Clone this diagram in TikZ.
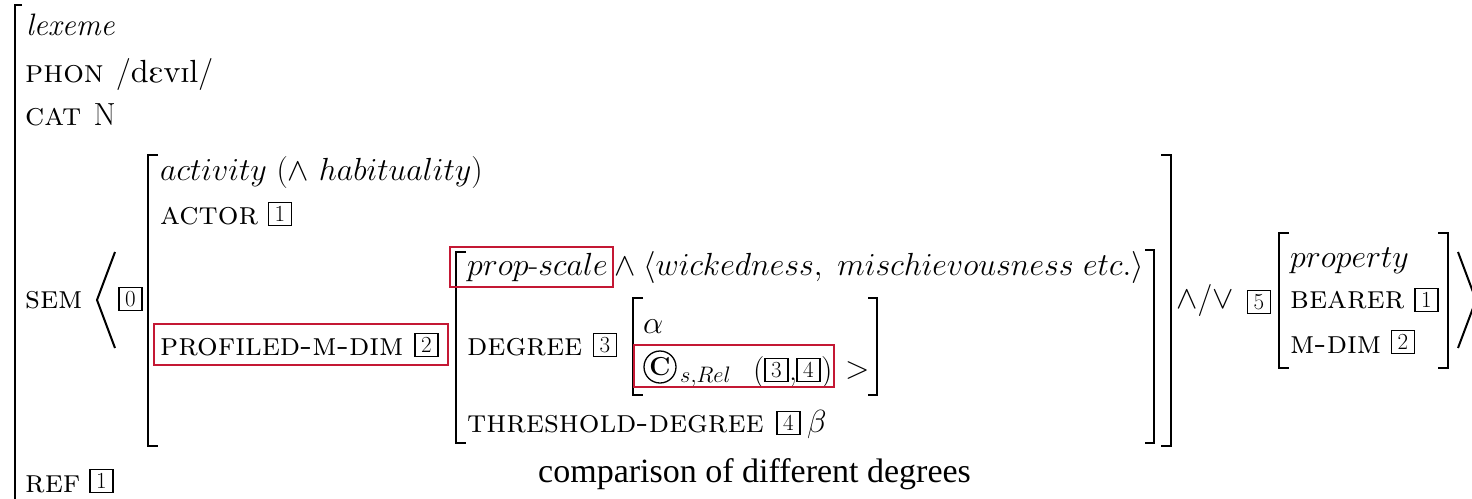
\RequirePackage{fix-cm}
\documentclass[tikz,border=0pt]{standalone}
\usepackage{fontspec}
\usepackage{tipa}
\DeclareFontFamily{T3}{mytipa}{}
\DeclareFontShape{T3}{mytipa}{m}{n}{<-> tipa10}{}
\newfontfamily\capfont{Liberation Serif}
\definecolor{myred}{RGB}{196,24,52}
\begin{document}
\begin{tikzpicture}[x=1pt,y=-1pt,
  t/.style={anchor=base west, inner sep=0pt, font=\fontsize{32}{38}\selectfont},
  sc/.style={anchor=base west, inner sep=0pt, font=\fontsize{32.5}{39}\selectfont\scshape},
  bx/.style={draw, line width=1.4pt, inner sep=0pt, minimum width=23pt, minimum height=23pt, font=\fontsize{23}{27}\selectfont},
  brk/.style={line width=2pt},
  redbox/.style={draw=myred, line width=2pt},
]
\useasboundingbox (0,0) rectangle (1472,498);
% outer bracket
\draw[brk] (22,5) -- (15,5) -- (15,510);
\node[t, font=\fontsize{31}{37}\selectfont] (lex) at (26,35) {\textit{lexeme}};
\node[sc] (phon) at (25,82) {phon \upshape\fontsize{32}{38}\selectfont/{\fontencoding{T3}\fontfamily{mytipa}\selectfont dEvIl}/};
\node[sc] (cat) at (25,125) {cat \upshape\fontsize{32}{38}\selectfont N};
\node[sc] (sem) at (25,308) {sem};
\draw[brk] (115,252) -- (97,300) -- (115,348);
\node[bx] (b0) at (130.5,299) {0};
% activity AVM
\draw[brk] (158,155) -- (148,155) -- (148,446) -- (158,446);
\draw[brk] (1161,155) -- (1171,155) -- (1171,446) -- (1161,446);
\node[t] (act) at (160,180) {$activity\ (\wedge\ habituality)$};
\node[sc] (actor) at (160,224) {actor};
\node[bx] (b1a) at (280,214) {1};
\node[sc] (prof) at (160,355) {profiled-m-dim};
\node[bx] (b2a) at (426.5,345) {2};
\draw[redbox] (154,324) rectangle (448,365);
% prop-scale AVM
\draw[brk] (466,252) -- (456,252) -- (456,443) -- (466,443);
\draw[brk] (1145,250) -- (1154,250) -- (1154,443) -- (1145,443);
\node[t] (ps) at (467,275) {$prop\mbox{-}scale\wedge\langle wickedness,\ mischievousness\ etc.\rangle$};
\draw[redbox] (450,247) rectangle (613,287);
\node[sc] (deg) at (467,355) {degree};
\node[bx] (b3a) at (605,345) {3};
% degree AVM
\draw[brk] (643,298) -- (633,298) -- (633,395) -- (643,395);
\draw[brk] (868,298) -- (877,298) -- (877,395) -- (868,395);
\node[t] (alpha) at (643,333) {$\alpha$};
\node[draw, circle, line width=1.3pt, inner sep=0pt, minimum size=32pt, font=\fontsize{26}{30}\selectfont\bfseries] (copy) at (660,367) {C};
\node[t] (srel) at (680,382) {$\scriptstyle s,Rel$};
\node[t] (lp) at (753,380) {(};
\node[bx] (b3b) at (776.5,370) {3};
\node[t] (comma) at (789,380) {,};
\node[bx] (b4b) at (808.5,370) {4};
\node[t] (rp) at (821,380) {)};
\draw[redbox] (634,345) rectangle (834,387);
\node[t] (gt) at (845,378) {$>$};
\node[sc] (thr) at (467,432) {threshold-degree};
\node[bx] (b4a) at (788.5,423) {4};
\node[t] (beta) at (807,432) {$\beta$};
% conjunction
\node[t] (andor) at (1176,308) {$\wedge/\vee$};
\node[bx] (b5) at (1259,302) {5};
% property AVM
\draw[brk] (1289,233) -- (1279,233) -- (1279,368) -- (1289,368);
\draw[brk] (1438,233) -- (1448,233) -- (1448,368) -- (1438,368);
\node[t] (prop) at (1290,267) {$property$};
\node[sc] (bear) at (1290,308) {bearer};
\node[bx] (b1b) at (1426.5,300) {1};
\node[sc] (mdim) at (1290,353) {m-dim};
\node[bx] (b2b) at (1403,342) {2};
\draw[brk] (1458,252) -- (1476,300) -- (1458,348);
% ref
\node[sc] (ref) at (25,492) {ref};
\node[bx] (b1c) at (101.5,481) {1};
\node[anchor=base west, inner sep=0pt, font=\capfont\fontsize{34}{40}\selectfont] (cap) at (538,482) {comparison of different degrees};
\end{tikzpicture}
\end{document}
